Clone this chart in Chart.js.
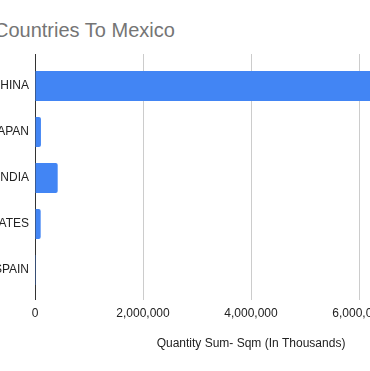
<!DOCTYPE html>
<html>
<head>
<meta charset="utf-8">
<script src="https://cdn.jsdelivr.net/npm/chart.js@4"></script>
<style>
  html, body { margin: 0; padding: 0; width: 370px; height: 371px; overflow: hidden; background: #ffffff; position: relative; }
  #title { position: absolute; left: -6px; top: 20px; font-family: "Liberation Sans", Arial, sans-serif; font-size: 20px; line-height: 20px; color: #757575; white-space: nowrap; }
  #wrap { position: absolute; left: -120px; top: 0; width: 627px; height: 371px; }
</style>
</head>
<body>
<div id="title">Countries To Mexico</div>
<div id="wrap"><canvas id="c" width="627" height="371"></canvas></div>
<script>
const categories = ["CHINA", "JAPAN", "INDIA", "UNITED STATES", "SPAIN"];
const quantityValues = [6900000, 110000, 420000, 105000, 3000];
const xTickValues = [0, 2000000, 4000000, 6000000, 8000000];
const xAxisTitle = "Quantity Sum- Sqm (In Thousands)";

const FONT = "'Liberation Sans', Arial, sans-serif";
const gridColor = (ctx) => (ctx.tick && ctx.tick.value === 0) ? '#333333' : '#cccccc';

new Chart(document.getElementById('c'), {
  type: 'bar',
  data: {
    labels: categories,
    datasets: [{
      data: quantityValues,
      backgroundColor: '#4285F4',
      borderWidth: 0,
      borderRadius: 2,
      barPercentage: 30 / 46,
      categoryPercentage: 1
    }]
  },
  options: {
    indexAxis: 'y',
    responsive: false,
    animation: false,
    devicePixelRatio: 1,
    layout: { padding: { top: 54, right: 40, bottom: 0, left: 0 } },
    plugins: { legend: { display: false }, tooltip: { enabled: false }, title: { display: false } },
    scales: {
      x: {
        type: 'linear',
        position: 'bottom',
        min: xTickValues[0],
        max: xTickValues[xTickValues.length - 1],
        afterBuildTicks: (s) => { s.ticks = xTickValues.map(v => ({ value: v })); },
        ticks: {
          color: '#222222',
          padding: 6,
          font: { family: FONT, size: 12 },
          maxRotation: 0,
          callback: (v) => Number(v).toLocaleString('en-US')
        },
        grid: { color: gridColor, tickColor: gridColor, tickLength: 7, drawTicks: true, lineWidth: 1 },
        border: { display: false },
        title: {
          display: true,
          text: xAxisTitle,
          color: '#222222',
          font: { family: FONT, size: 12 },
          padding: { top: 4, bottom: 20 }
        },
        afterFit: (s) => { s.height = 78; }
      },
      x2: {
        type: 'linear',
        position: 'top',
        min: xTickValues[0],
        max: xTickValues[xTickValues.length - 1],
        afterBuildTicks: (s) => { s.ticks = xTickValues.map(v => ({ value: v })); },
        ticks: { display: false },
        grid: { drawOnChartArea: false, color: gridColor, tickColor: gridColor, tickLength: 9, drawTicks: true },
        border: { display: false },
        afterFit: (s) => { s.height = 9; }
      },
      y: {
        type: 'category',
        ticks: { color: '#222222', padding: 6, font: { family: FONT, size: 12 } },
        grid: { display: false, drawTicks: false },
        border: { display: false },
        afterFit: (s) => { s.width = 155; }
      }
    }
  }
});
</script>
</body>
</html>
